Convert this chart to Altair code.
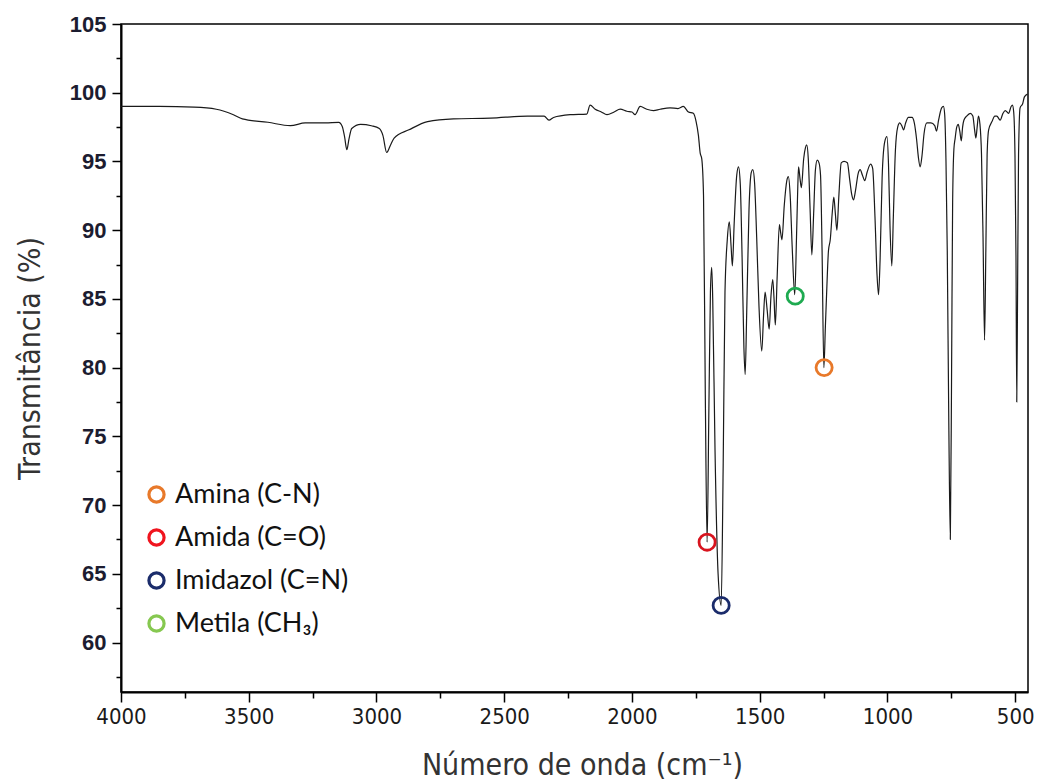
import altair as alt
import pandas as pd

# FTIR spectrum: wavenumber (cm-1) and transmittance (%)
numero_onda = [
    4000, 3850, 3714, 3627, 3560, 3525, 3425, 3337, 3279, 3200, 3148, 3134, 3125, 3116,
    3108, 3097, 3062, 3020, 2989, 2975, 2960, 2945, 2931, 2873, 2800, 2699, 2554, 2409,
    2344, 2325, 2307, 2242, 2177, 2164, 2144, 2120, 2098, 2070, 2046, 2020, 2000, 1988,
    1968, 1942, 1916, 1890, 1851, 1820, 1799, 1779, 1760, 1749, 1740, 1733, 1727, 1720,
    1713, 1706, 1699, 1693, 1688, 1684, 1675, 1663, 1651, 1643, 1636, 1627, 1619, 1612,
    1607, 1600, 1590, 1583, 1576, 1569, 1562, 1557, 1551, 1542, 1533, 1527, 1520, 1512,
    1503, 1492, 1485, 1479, 1471, 1463, 1456, 1449, 1444, 1439, 1432, 1423, 1418, 1413,
    1404, 1394, 1388, 1381, 1373, 1363, 1356, 1351, 1348, 1342, 1337, 1328, 1321, 1316,
    1310, 1303, 1296, 1289, 1282, 1275, 1268, 1262, 1256, 1249, 1243, 1238, 1231, 1224,
    1216, 1210, 1204, 1198, 1190, 1181, 1170, 1157, 1148, 1140, 1133, 1125, 1115, 1107,
    1098, 1089, 1080, 1066, 1058, 1049, 1041, 1035, 1029, 1021, 1011, 1002, 996, 990,
    983, 977, 969, 960, 952, 944, 937, 929, 918, 904, 895, 886, 879, 872, 865, 857, 846,
    830, 815, 808, 800, 788, 781, 776, 771, 766, 760, 754, 749, 745, 740, 735, 729, 723,
    717, 711, 706, 701, 690, 676, 666, 659, 654, 649, 644, 638, 632, 626, 620, 615, 610,
    604, 591, 580, 572, 559, 548, 539, 526, 516, 511, 506, 501, 497, 494, 491, 487, 481,
    471, 464, 452,
]
transmitancia = [
    99.0, 99.0, 98.95, 98.8, 98.4, 98.1, 97.85, 97.6, 97.8, 97.8, 97.85, 97.55, 96.8, 95.85,
    96.6, 97.4, 97.7, 97.6, 97.4, 96.9, 95.65, 96.2, 96.7, 97.3, 97.9, 98.1, 98.15, 98.3,
    98.3, 98.0, 98.2, 98.4, 98.45, 99.1, 98.8, 98.6, 98.4, 98.6, 98.8, 98.65, 98.6, 98.4,
    99.0, 98.8, 98.7, 98.8, 98.9, 98.85, 99.0, 98.6, 98.5, 97.9, 96.9, 95.6, 95.2, 92.5,
    78.0, 67.3, 77.0, 85.5, 87.3, 85.0, 74.0, 65.0, 62.7, 73.0, 85.5, 89.3, 90.6, 88.8,
    87.4, 90.5, 94.0, 94.6, 93.3, 88.0, 81.5, 79.5, 84.0, 91.5, 94.2, 94.4, 93.4, 89.5,
    84.5, 81.2, 83.8, 85.5, 84.2, 82.8, 85.2, 86.4, 85.0, 83.1, 86.5, 90.4, 89.8, 89.3,
    91.8, 93.6, 93.9, 92.6, 88.8, 85.3, 89.5, 93.2, 94.6, 93.7, 93.1, 95.2, 96.0, 96.2,
    95.2, 91.6, 88.2, 91.2, 94.4, 95.1, 94.9, 94.0, 88.5, 80.0, 83.0, 85.5, 88.5, 89.3,
    91.3, 92.4, 91.2, 90.0, 92.6, 94.9, 95.0, 94.9, 93.7, 92.6, 92.2, 92.9, 94.1, 94.4,
    94.0, 93.6, 94.2, 94.8, 94.5, 91.0, 86.8, 85.3, 87.8, 93.8, 96.4, 96.8, 94.8, 90.2,
    87.4, 91.0, 95.8, 97.5, 97.8, 97.6, 97.3, 97.8, 98.2, 98.2, 97.8, 96.6, 95.3, 94.6, 95.4, 97.0, 97.8,
    97.8, 97.6, 97.2, 98.0, 98.9, 99.0, 98.4, 95.0, 88.5, 76.0, 67.5, 80.0, 92.0, 95.9, 96.7, 97.5, 97.7,
    97.2, 96.5, 97.5, 98.0, 98.3, 98.5, 98.3, 97.3, 96.7, 97.5, 98.3, 97.7, 95.5, 89.5, 82.0, 88.5, 95.5,
    97.3, 97.9, 98.3, 98.3, 98.0, 98.5, 98.7, 98.5, 99.0, 99.1, 98.6, 95.5, 88.0, 77.5, 85.0, 95.5, 98.9,
    99.2, 99.7, 99.9,
]

# Assigned bands (circled on the spectrum)
grupos = ["Amina (C-N)", "Amida (C=O)", "Imidazol (C=N)", "Metila (CH₃)"]
grupo_onda = [1248, 1706, 1651, 1361]
grupo_trans = [80.0, 67.3, 62.7, 85.2]
cores_legenda = ["#E8792A", "#F0141E", "#1B2C6B", "#86C850"]
cores_marcador = ["#E8792A", "#D8141E", "#1B2C6B", "#1EAA50"]

x_ticks = list(range(500, 4001, 250))
y_major = list(range(60, 106, 5))
y_minor = [57.5 + 5 * i for i in range(10)]

espectro = pd.DataFrame({"onda": numero_onda, "trans": transmitancia})
espectro = espectro.sort_values("onda", ascending=False).reset_index(drop=True)
espectro["i"] = range(len(espectro))

bandas = pd.DataFrame({
    "onda": grupo_onda, "trans": grupo_trans,
    "grupo": grupos, "cor": cores_marcador,
})

x_scale = alt.Scale(domain=[450, 4000], reverse=True, nice=False, zero=False)
y_scale = alt.Scale(domain=[56.4, 105], nice=False, zero=False)

narrow = "Liberation Sans Narrow, Arial Narrow, DejaVu Sans Condensed, sans-serif"

x_axis = alt.Axis(
    values=x_ticks, format="d",
    labelExpr="datum.value % 500 === 0 ? datum.label : ''",
    tickSize={"condition": {"test": "datum.value % 500 === 0", "value": 10}, "value": 6},
    tickWidth=1.5, tickColor="black", domainColor="black", domainWidth=2,
    labelFont=narrow, labelFontSize=22, labelColor="#1a1a1a", labelPadding=4,
    labelOverlap=False, labelFlush=False, grid=False,
    title="Número de onda (cm⁻¹)", titleFont=narrow, titleFontSize=30,
    titleFontWeight="normal", titleColor="#333333",
    titleX=461, titleY=73, titleAnchor="middle", titleBaseline="middle",
)
y_axis = alt.Axis(
    orient="left", values=y_major, format="d", tickSize=9,
    tickWidth=1.5, tickColor="black", domainColor="black", domainWidth=2,
    labelFont="Liberation Sans, Arial, sans-serif", labelFontSize=22,
    labelFontWeight="bold", labelColor="#1c1c30", labelPadding=6,
    labelOverlap=False, labelFlush=False, grid=False,
    title="Transmitância (%)", titleFont=narrow, titleFontSize=30,
    titleFontWeight="normal", titleColor="#333333",
    titleX=-91, titleY=334, titleAngle=270, titleAnchor="middle",
    titleBaseline="middle",
)
# minor ticks of the transmittance axis
y_axis_minor = alt.Axis(
    orient="left", values=y_minor, tickSize=5, tickWidth=1.5, tickColor="black",
    labels=False, domain=False, grid=False, title=None,
)

linha = alt.Chart(espectro).mark_line(
    color="#1a1a1a", strokeWidth=1.2, interpolate="monotone", clip=True
).encode(
    x=alt.X("onda:Q", scale=x_scale, axis=x_axis),
    y=alt.Y("trans:Q", scale=y_scale, axis=y_axis),
    order=alt.Order("i:Q"),
)

# band markers drawn on the spectrum
marcadores = alt.Chart(bandas).mark_point(
    filled=False, size=260, strokeWidth=2.8, opacity=1
).encode(
    x=alt.X("onda:Q", scale=x_scale),
    y=alt.Y("trans:Q", scale=y_scale, axis=None),
    stroke=alt.Stroke("cor:N", scale=None),
)

# legend of the assigned groups
legenda = alt.Chart(bandas).mark_point(
    filled=False, opacity=0
).encode(
    x=alt.X("onda:Q", scale=x_scale),
    y=alt.Y("trans:Q", scale=y_scale, axis=y_axis_minor),
    color=alt.Color(
        "grupo:N",
        scale=alt.Scale(domain=grupos, range=cores_legenda),
        legend=alt.Legend(
            orient="none", legendX=22, legendY=457, title=None,
            symbolType="circle", symbolSize=230, symbolStrokeWidth=3.2,
            symbolOpacity=1, symbolFillColor="transparent",
            labelFont="Lato, Open Sans, sans-serif", labelFontSize=27,
            labelColor="#111111", labelOffset=5, rowPadding=14,
            labelLimit=400,
        ),
    ),
)

chart = alt.layer(linha, marcadores, legenda).resolve_axis(
    y="independent"
).properties(
    width=907, height=668,
    autosize=alt.AutoSizeParams(type="none"),
    padding={"left": 121, "top": 24, "right": 9, "bottom": 88},
    background="white",
).configure_view(stroke="black", strokeWidth=1.5)

chart.save("out.html", embed_options={"renderer": "svg", "actions": False})
